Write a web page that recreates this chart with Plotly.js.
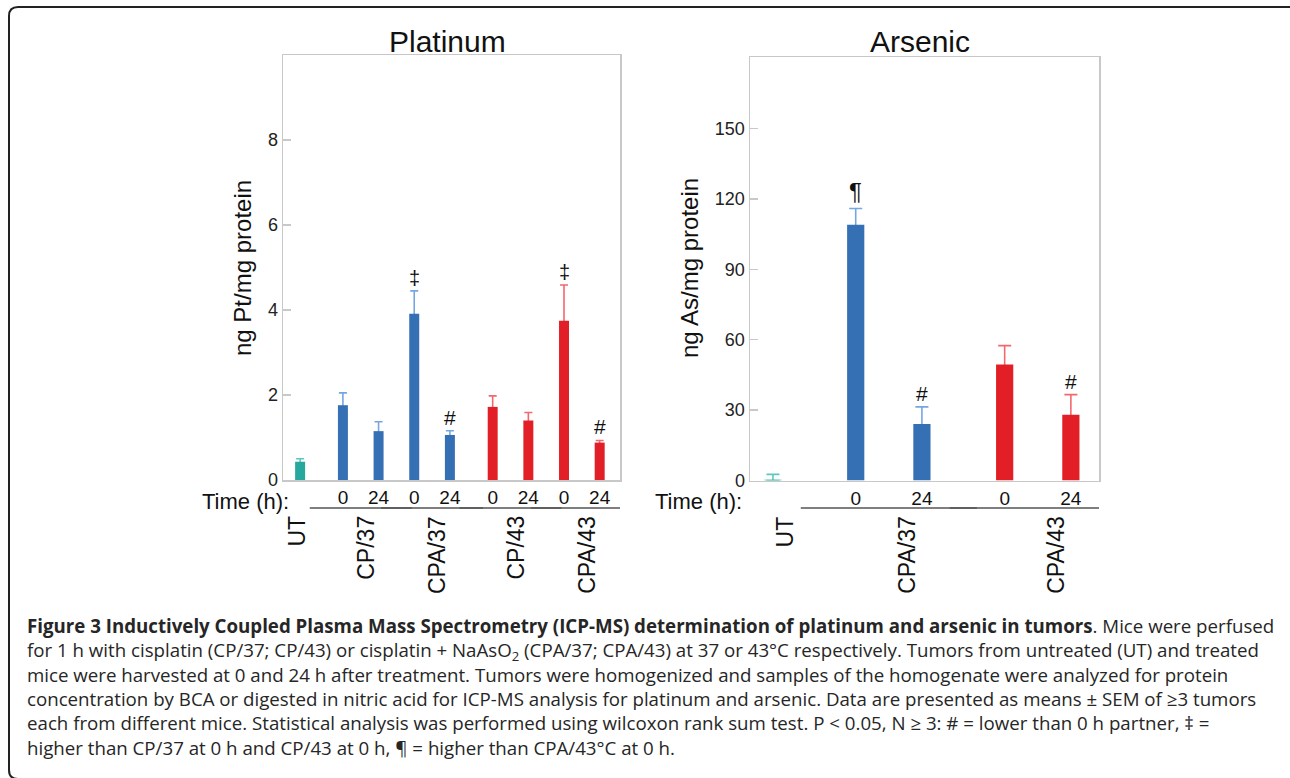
<!DOCTYPE html>
<html>
<head>
<meta charset="utf-8">
<script src="https://cdn.plot.ly/plotly-3.0.1.min.js"></script>
<style>
  html, body { margin: 0; padding: 0; background: #fff; }
  #chart { width: 1290px; height: 778px; }
</style>
</head>
<body>
<div id="chart"></div>
<script>
// ---------------- DATA ----------------
// Platinum panel
const ptCategories = ['UT', 'CP/37', 'CP/37', 'CPA/37', 'CPA/37', 'CP/43', 'CP/43', 'CPA/43', 'CPA/43'];
const ptTimes      = ['', '0', '24', '0', '24', '0', '24', '0', '24'];
const ptMeans      = [0.43, 1.76, 1.15, 3.91, 1.06, 1.72, 1.40, 3.75, 0.88];
const ptSem        = [0.07, 0.29, 0.22, 0.54, 0.10, 0.26, 0.19, 0.84, 0.05];
const ptSig        = ['', '', '', '‡', '#', '', '', '‡', '#'];
const ptTicks      = [0, 2, 4, 6, 8];

// Arsenic panel
const asCategories = ['UT', 'CPA/37', 'CPA/37', 'CPA/43', 'CPA/43'];
const asTimes      = ['', '0', '24', '0', '24'];
const asMeans      = [0.3, 109.0, 24.1, 49.4, 28.0];
const asSem        = [2.3, 6.9, 7.3, 8.1, 8.6];
const asSig        = ['', '¶', '#', '', '#'];
const asTicks      = [0, 30, 60, 90, 120, 150];

const panelTitles  = ['Platinum', 'Arsenic'];
const yTitles      = ['ng Pt/mg protein', 'ng As/mg protein'];
const timeLabel    = 'Time (h):';

const captionLines = [
  '<b>Figure 3 Inductively Coupled Plasma Mass Spectrometry (ICP-MS) determination of platinum and arsenic in tumors</b>. Mice were perfused',
  'for 1 h with cisplatin (CP/37; CP/43) or cisplatin + NaAsO<sub>2</sub> (CPA/37; CPA/43) at 37 or 43°C respectively. Tumors from untreated (UT) and treated',
  'mice were harvested at 0 and 24 h after treatment. Tumors were homogenized and samples of the homogenate were analyzed for protein',
  'concentration by BCA or digested in nitric acid for ICP-MS analysis for platinum and arsenic. Data are presented as means ± SEM of ≥3 tumors',
  'each from different mice. Statistical analysis was performed using wilcoxon rank sum test. P &lt; 0.05, N ≥ 3: # = lower than 0 h partner, ‡ =',
  'higher than CP/37 at 0 h and CP/43 at 0 h, ¶ = higher than CPA/43°C at 0 h.'
];

// ---------------- STYLE / LAYOUT HELPERS ----------------
const W = 1290, H = 778;
const px = x => x / W;
const py = y => 1 - y / H;

const FONT = 'Arial, "Liberation Sans", sans-serif';
const CAPFONT = '"Open Sans", "Noto Sans", sans-serif';
const colors = {
  UT: { bar: '#27a89e', err: '#5fc6be' },
  '37': { bar: '#3670b4', err: '#74a6e0' },
  '43': { bar: '#e21f26', err: '#f2686c' }
};
const tempOf = c => (c.indexOf('/') >= 0 ? c.split('/')[1] : c);

function positions(cats, gap) {
  const pos = []; let x = 0, prev = null;
  cats.forEach((c, i) => {
    const t = tempOf(c);
    if (i > 0) { x += 1; if (t !== prev) x += gap; }
    pos.push(x); prev = t;
  });
  return pos;
}

function buildPanel(cfg) {
  const pos = positions(cfg.cats, cfg.gap);
  const errTraces = [];
  const barTraces = [];
  const temps = [];
  cfg.cats.forEach(c => { const t = tempOf(c); if (temps.indexOf(t) < 0) temps.push(t); });
  temps.forEach(t => {
    const idx = cfg.cats.map((c, i) => (tempOf(c) === t ? i : -1)).filter(i => i >= 0);
    const xs = idx.map(i => pos[i]);
    const ys = idx.map(i => cfg.means[i]);
    // error bars (upper SEM) drawn first on transparent bars; the coloured bars then cover their foot
    errTraces.push({
      type: 'bar', x: xs, y: ys, width: cfg.barWidth,
      marker: { color: 'rgba(0,0,0,0)', line: { width: 0 } },
      error_y: {
        type: 'data', symmetric: false,
        array: idx.map(i => cfg.sem[i]),
        arrayminus: idx.map(i => Math.min(cfg.means[i], cfg.footDepth)),
        color: colors[t].err, thickness: 1.6, width: cfg.capWidth
      },
      xaxis: cfg.xa, yaxis: cfg.ya, showlegend: false, hoverinfo: 'skip'
    });
    barTraces.push({
      type: 'bar', x: xs, y: ys, width: cfg.barWidth,
      marker: { color: colors[t].bar, line: { width: 0 } },
      xaxis: cfg.xa, yaxis: cfg.ya, showlegend: false,
      hovertext: idx.map(i => cfg.cats[i] + (cfg.times[i] ? ' ' + cfg.times[i] + ' h' : '')),
      hoverinfo: 'text+y'
    });
  });

  const annotations = [];
  const shapes = [];
  const xref = cfg.xa, yref = cfg.ya;

  // significance marks
  cfg.sig.forEach((s, i) => {
    if (!s) return;
    annotations.push({
      xref: xref, yref: yref, x: pos[i], y: cfg.means[i] + cfg.sem[i],
      text: s, showarrow: false, yanchor: 'bottom', yshift: cfg.sigShift[s] || 0,
      font: { family: FONT, size: cfg.sigSize[s] || 20, color: '#111' }
    });
  });

  // group labels and underlines
  const groups = [];
  cfg.cats.forEach((c, i) => {
    const g = groups.find(gg => gg.name === c);
    if (g) g.idx.push(i); else groups.push({ name: c, idx: [i] });
  });
  groups.forEach(g => {
    const xs = g.idx.map(i => pos[i]);
    const center = xs.reduce((a, b) => a + b, 0) / xs.length;
    annotations.push({
      xref: xref, yref: 'paper', x: center, y: py(514),
      xshift: g.name === 'UT' ? cfg.utShift : cfg.labelShift,
      text: g.name, textangle: -90, showarrow: false,
      xanchor: 'center', yanchor: 'top',
      font: { family: FONT, size: 23, color: '#111' }
    });
    if (g.idx.length > 1) {
      shapes.push({
        type: 'line', xref: xref, yref: 'paper',
        x0: Math.min(...xs) - cfg.lineExt, x1: Math.max(...xs) + cfg.lineExt,
        y0: py(508), y1: py(508),
        line: { color: '#555', width: 1.5 }
      });
    }
  });

  const tv = [], tt = [];
  cfg.times.forEach((t, i) => { if (t) { tv.push(pos[i]); tt.push(t); } });

  const axisX = {
    domain: cfg.xdomain, range: cfg.xrange, anchor: cfg.ya,
    tickmode: 'array', tickvals: tv, ticktext: tt, ticks: '',
    tickfont: { family: FONT, size: 19, color: '#111' },
    showline: true, mirror: true, linecolor: '#c8c8c8', linewidth: 1.5,
    showgrid: false, zeroline: false, fixedrange: true
  };
  const axisY = {
    domain: cfg.ydomain, range: cfg.yrange, anchor: cfg.xa,
    tickmode: 'array', tickvals: cfg.ticks, ticks: 'inside', ticklen: 8, tickwidth: 1.5, tickcolor: '#c8c8c8',
    tickfont: { family: FONT, size: 18, color: '#222' },
    showline: true, mirror: true, linecolor: '#c8c8c8', linewidth: 1.5,
    showgrid: false, zeroline: false, fixedrange: true
  };
  return { errTraces, barTraces, annotations, shapes, axisX, axisY };
}

const pt = buildPanel({
  cats: ptCategories, times: ptTimes, means: ptMeans, sem: ptSem, sig: ptSig, ticks: ptTicks,
  gap: 0.2, barWidth: 0.28, capWidth: 4, footDepth: 0.15, xa: 'x', ya: 'y',
  xdomain: [px(283), px(620)], xrange: [-0.48, 8.97],
  ydomain: [py(480), py(55)], yrange: [0, 10],
  sigSize: { '‡': 20, '#': 21 }, sigShift: { '‡': 0, '#': 0 },
  labelShift: 5, utShift: -4, lineExt: 0.93
});
const as = buildPanel({
  cats: asCategories, times: asTimes, means: asMeans, sem: asSem, sig: asSig, ticks: asTicks,
  gap: 0.25, barWidth: 0.26, capWidth: 6.5, footDepth: 3, xa: 'x2', ya: 'y2',
  xdomain: [px(750), px(1099)], xrange: [-0.347, 4.925],
  ydomain: [py(480.5), py(57)], yrange: [0, 180.5],
  sigSize: { '¶': 24, '#': 21 }, sigShift: { '¶': 2, '#': 0 },
  labelShift: 18, utShift: 12, lineExt: 0.83
});

const annotations = [].concat(pt.annotations, as.annotations);

// panel titles
[[447.5, 0], [920, 1]].forEach(([x, i]) => {
  annotations.push({
    xref: 'paper', yref: 'paper', x: px(x), y: py(41), xanchor: 'center', yanchor: 'middle',
    text: panelTitles[i], showarrow: false, font: { family: FONT, size: 30, color: '#111' }
  });
});
// y titles
[[242, 0], [689, 1]].forEach(([x, i]) => {
  annotations.push({
    xref: 'paper', yref: 'paper', x: px(x), y: py(268), xanchor: 'center', yanchor: 'middle',
    text: yTitles[i], textangle: -90, showarrow: false, font: { family: FONT, size: 24, color: '#111' }
  });
});
// Time (h):
[291, 744].forEach(x => {
  annotations.push({
    xref: 'paper', yref: 'paper', x: px(x), y: py(501), xanchor: 'right', yanchor: 'middle',
    text: timeLabel, showarrow: false, font: { family: FONT, size: 22, color: '#111' }
  });
});
// caption (one text block, Plotly line spacing 1.3em ≈ 24 px)
annotations.push({
  xref: 'paper', yref: 'paper', x: px(25), y: py(686), xanchor: 'left', yanchor: 'middle',
  text: captionLines.join('<br>'), showarrow: false, align: 'left',
  font: { family: CAPFONT, size: 18.7, color: '#262626' }
});

// rounded frame
const frame = {
  type: 'path', xref: 'paper', yref: 'paper',
  path: 'M ' + px(1300) + ',' + py(7) + ' L ' + px(18) + ',' + py(7) +
        ' Q ' + px(9) + ',' + py(7) + ' ' + px(9) + ',' + py(16) +
        ' L ' + px(9) + ',' + py(770) +
        ' Q ' + px(9) + ',' + py(779) + ' ' + px(18) + ',' + py(779) +
        ' L ' + px(1300) + ',' + py(779),
  line: { color: '#222', width: 2 }
};

const layout = {
  width: W, height: H,
  margin: { l: 0, r: 0, t: 0, b: 0 },
  paper_bgcolor: '#fff', plot_bgcolor: '#fff',
  showlegend: false,
  barmode: 'overlay',
  xaxis: pt.axisX,
  yaxis: pt.axisY,
  xaxis2: as.axisX,
  yaxis2: as.axisY,
  annotations: annotations,
  shapes: [].concat(pt.shapes, as.shapes, [frame])
};

const data = [].concat(pt.errTraces, as.errTraces, pt.barTraces, as.barTraces);
Plotly.newPlot('chart', data, layout, { displayModeBar: false, staticPlot: true });
</script>
</body>
</html>
